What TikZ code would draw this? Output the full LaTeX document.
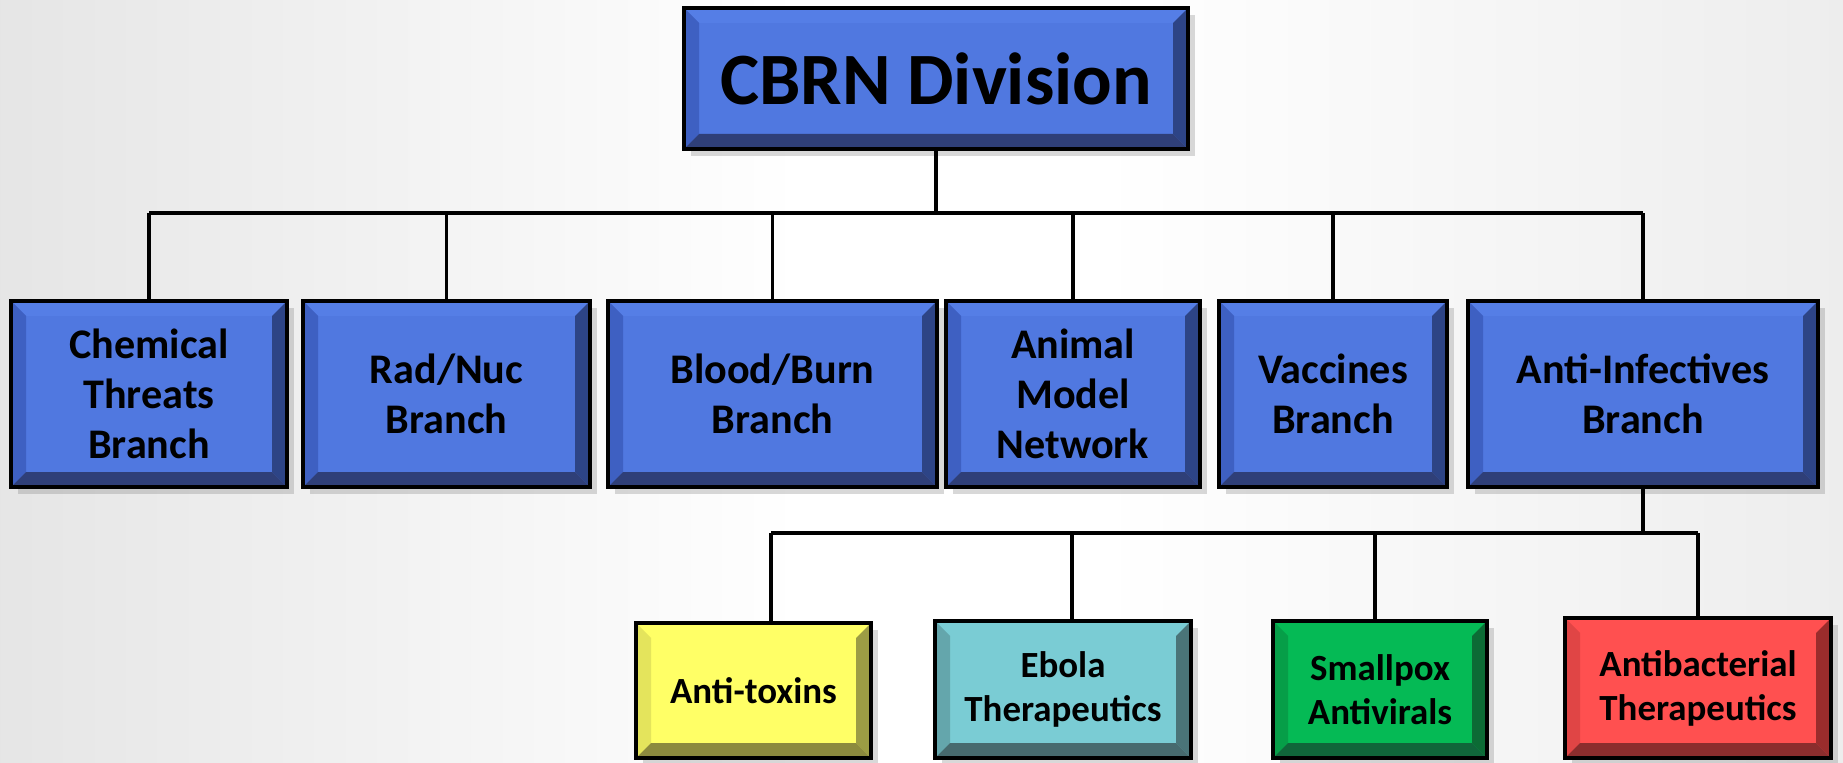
\documentclass[tikz,border=0pt]{standalone}
\usepackage{fontspec}
\setmainfont{Carlito}
\usetikzlibrary{calc, shadows}

\definecolor{bluface}{HTML}{5078E0}
\definecolor{blutop}{HTML}{557EE6}
\definecolor{bluleft}{HTML}{3E60C2}
\definecolor{bluright}{HTML}{2D4486}
\definecolor{blubot}{HTML}{2F3F78}
\definecolor{yelface}{HTML}{FFFF66}
\definecolor{yelleft}{HTML}{E4E45C}
\definecolor{yelright}{HTML}{9C9C44}
\definecolor{yelbot}{HTML}{8C8A3E}
\definecolor{tealface}{HTML}{7ACCD4}
\definecolor{tealleft}{HTML}{64A6AC}
\definecolor{tealright}{HTML}{4A7478}
\definecolor{tealbot}{HTML}{476A6E}
\definecolor{grnface}{HTML}{05BA55}
\definecolor{grnleft}{HTML}{069E48}
\definecolor{grnright}{HTML}{0C6B35}
\definecolor{grnbot}{HTML}{10653A}
\definecolor{redface}{HTML}{FF5050}
\definecolor{redleft}{HTML}{E04545}
\definecolor{redright}{HTML}{9A2C2C}
\definecolor{redbot}{HTML}{8B2D2D}
\newcommand{\bevw}{0.15}

\begin{document}
\begin{tikzpicture}[
        font=\bfseries,
        bevel/.style n args={5}{draw=black, line width=0.9pt, fill=#1, align=center, inner sep=0pt,
            drop shadow={shadow xshift=0.7mm, shadow yshift=-0.7mm, opacity=0.3},
            path picture={
                \coordinate (bsw) at (path picture bounding box.south west);
                \coordinate (bne) at (path picture bounding box.north east);
                \fill[#5] (bsw |- bne) -- (bne) -- ++(-\bevw,-\bevw) -- ($(bsw |- bne)+(\bevw,-\bevw)$) -- cycle;
                \fill[#2] (bsw) -- (bsw |- bne) -- ++(\bevw,-\bevw) -- ($(bsw)+(\bevw,\bevw)$) -- cycle;
                \fill[#3] (bne) -- (bne |- bsw) -- ++(-\bevw,\bevw) -- ($(bne)+(-\bevw,-\bevw)$) -- cycle;
                \fill[#4] (bsw) -- (bne |- bsw) -- ++(-\bevw,\bevw) -- ($(bsw)+(\bevw,\bevw)$) -- cycle;
            }},
        bluebox/.style={bevel={bluface}{bluleft}{bluright}{blubot}{blutop}},
        division/.style={bluebox, minimum width=5.04cm, minimum height=1.41cm, font=\bfseries\fontsize{21}{25}\selectfont},
        branch/.style={bluebox, minimum height=1.86cm, font=\bfseries\fontsize{12}{14.2}\selectfont},
        program/.style={minimum height=1.37cm, font=\bfseries\fontsize{10.5}{12.5}\selectfont},
        wire/.style={line width=0.9pt}
    ]
    \shade[left color=gray!20, right color=white] (0,0) rectangle (8,7.62);
    \fill[white] (8,0) rectangle (11,7.62);
    \shade[left color=white, right color=gray!14] (11,0) rectangle (18.43,7.62);
    \useasboundingbox (0,0) rectangle (18.43,7.62);

    \node[division] (cbrn) at (9.36,6.835) {CBRN Division};

    \node[branch, minimum width=2.76cm] (chem) at (1.49,3.68) {Chemical\\Threats\\Branch};
    \node[branch, minimum width=2.87cm] (rad) at (4.465,3.68) {Rad/Nuc\\Branch};
    \node[branch, minimum width=3.29cm] (blood) at (7.725,3.68) {Blood/Burn\\Branch};
    \node[branch, minimum width=2.54cm] (animal) at (10.73,3.68) {Animal\\Model\\Network};
    \node[branch, minimum width=2.28cm] (vacc) at (13.33,3.68) {Vaccines\\Branch};
    \node[branch, minimum width=3.50cm] (antiinf) at (16.43,3.68) {Anti-Infectives\\Branch};

    \node[program, bevel={yelface}{yelleft}{yelright}{yelbot}{yelface}, minimum width=2.35cm, minimum height=1.35cm] (tox) at (7.535,0.715) {Anti-toxins};
    \node[program, bevel={tealface}{tealleft}{tealright}{tealbot}{tealface}, minimum width=2.56cm] (ebola) at (10.63,0.725) {Ebola\\Therapeutics};
    \node[program, bevel={grnface}{grnleft}{grnright}{grnbot}{grnface}, minimum width=2.14cm] (pox) at (13.80,0.725) {Smallpox\\Antivirals};
    \node[program, bevel={redface}{redleft}{redright}{redbot}{redface}, minimum width=2.66cm, minimum height=1.40cm] (bac) at (16.98,0.74) {Antibacterial\\Therapeutics};

    \coordinate (busL) at (1.49,5.49);
    \coordinate (busR) at (16.43,5.49);
    \draw[wire] (cbrn.south) -- (cbrn.south |- busL);
    \draw[wire] (busL) -- (busR);
    \foreach \n in {chem, rad, blood, animal, vacc, antiinf}
        \draw[wire] (\n.north) -- (\n.north |- busL);

    \coordinate (subL) at (7.71,2.29);
    \coordinate (subR) at (16.98,2.29);
    \draw[wire] (antiinf.south) -- (antiinf.south |- subL);
    \draw[wire] (subL) -- (subR);
    \foreach \n/\x in {tox/7.71, ebola/10.72, pox/13.75, bac/16.98} {
        \coordinate (t\n) at (\x,2.29);
        \draw[wire] (t\n) -- (t\n |- \n.north);
    }
\end{tikzpicture}
\end{document}
